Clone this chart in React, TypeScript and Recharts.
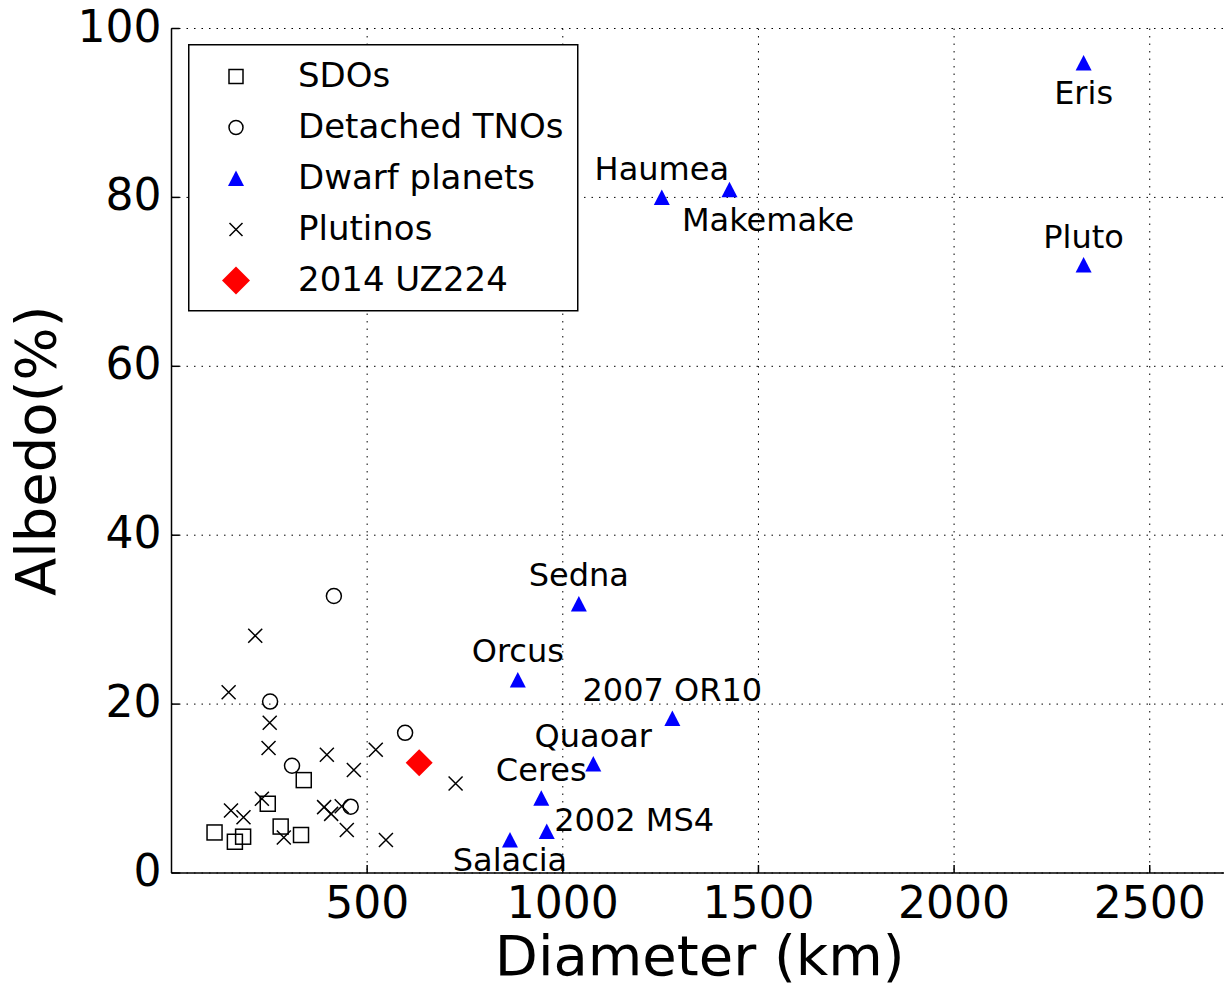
import { ScatterChart, Scatter, XAxis, YAxis, CartesianGrid, Legend } from 'recharts';

// diameters in km, albedo in %
const sdos = [
  { d: 110, a: 4.8 },
  { d: 162, a: 3.7 },
  { d: 183, a: 4.3 },
  { d: 246, a: 8.2 },
  { d: 279, a: 5.5 },
  { d: 331, a: 4.5 },
  { d: 338, a: 11.0 }
];

const detached = [
  { d: 415, a: 32.8 },
  { d: 252, a: 20.3 },
  { d: 308, a: 12.7 },
  { d: 597, a: 16.6 },
  { d: 458, a: 7.85 }
];

const plutinos = [
  { d: 214, a: 28.1 },
  { d: 146, a: 21.4 },
  { d: 251, a: 17.8 },
  { d: 248, a: 14.8 },
  { d: 397, a: 14.0 },
  { d: 522, a: 14.6 },
  { d: 466, a: 12.2 },
  { d: 726, a: 10.6 },
  { d: 231, a: 8.8 },
  { d: 152, a: 7.4 },
  { d: 184, a: 6.6 },
  { d: 390, a: 7.8 },
  { d: 408, a: 7.0 },
  { d: 435, a: 7.9 },
  { d: 448, a: 5.1 },
  { d: 287, a: 4.2 },
  { d: 548, a: 3.9 }
];

const dwarfPlanets = [
  { name: 'Eris', d: 2331, a: 95.9 },
  { name: 'Pluto', d: 2331, a: 72.0 },
  { name: 'Haumea', d: 1253, a: 80.0 },
  { name: 'Makemake', d: 1426, a: 80.9 },
  { name: 'Sedna', d: 1041, a: 31.85 },
  { name: 'Orcus', d: 885, a: 22.85 },
  { name: '2007 OR10', d: 1280, a: 18.3 },
  { name: 'Quaoar', d: 1078, a: 12.9 },
  { name: 'Ceres', d: 945, a: 8.85 },
  { name: '2002 MS4', d: 959, a: 4.9 },
  { name: 'Salacia', d: 865, a: 3.9 }
];

const uz224 = [{ d: 633, a: 13.06 }];

const xTicks = [500, 1000, 1500, 2000, 2500];
const yTicks = [0, 20, 40, 60, 80, 100];

// where each dwarf planet's name sits relative to its marker
const labelPos: Record<string, { dx: number; dy: number; anchor: string }> = {
  Eris: { dx: 0, dy: 41, anchor: 'middle' },
  Pluto: { dx: 0, dy: -17, anchor: 'middle' },
  Haumea: { dx: 0, dy: -17.5, anchor: 'middle' },
  Makemake: { dx: -47.5, dy: 41.7, anchor: 'start' },
  Sedna: { dx: 0, dy: -18, anchor: 'middle' },
  Orcus: { dx: 0, dy: -18, anchor: 'middle' },
  '2007 OR10': { dx: 0, dy: -17.3, anchor: 'middle' },
  Quaoar: { dx: 0, dy: -17.3, anchor: 'middle' },
  Ceres: { dx: 0, dy: -17, anchor: 'middle' },
  '2002 MS4': { dx: 7.5, dy: -1, anchor: 'start' },
  Salacia: { dx: 0, dy: 31, anchor: 'middle' }
};

const FONT = 'DejaVu Sans';

const Square = ({ cx, cy, s = 7.5 }: any) => (
  <rect x={cx - s} y={cy - s} width={2 * s} height={2 * s} fill="none" stroke="#000" strokeWidth={1.5} />
);
const Circle = ({ cx, cy, s = 7.5 }: any) => (
  <circle cx={cx} cy={cy} r={s} fill="none" stroke="#000" strokeWidth={1.5} />
);
const Cross = ({ cx, cy, s = 7 }: any) => (
  <path d={`M${cx - s},${cy - s}L${cx + s},${cy + s}M${cx - s},${cy + s}L${cx + s},${cy - s}`} stroke="#000" strokeWidth={1.5} />
);
const Triangle = ({ cx, cy, s = 8 }: any) => (
  <polygon points={`${cx},${cy - s} ${cx - s},${cy + s - 0.5} ${cx + s},${cy + s - 0.5}`} fill="#0000ff" />
);
const Diamond = ({ cx, cy, s = 13.5 }: any) => (
  <polygon points={`${cx},${cy - s} ${cx + s},${cy} ${cx},${cy + s} ${cx - s},${cy}`} fill="#ff0000" />
);

const DwarfShape = (props: any) => {
  const { cx, cy, payload } = props;
  const p = labelPos[payload.name];
  return (
    <g>
      <Triangle cx={cx} cy={cy} />
      <text x={cx + p.dx} y={cy + p.dy} textAnchor={p.anchor} fontSize={32} fontFamily={FONT} fill="#000">
        {payload.name}
      </text>
    </g>
  );
};

const legendItems = [
  { label: 'SDOs', Mark: Square, s: 7 },
  { label: 'Detached TNOs', Mark: Circle, s: 7 },
  { label: 'Dwarf planets', Mark: Triangle, s: 8 },
  { label: 'Plutinos', Mark: Cross, s: 6.5 },
  { label: '2014 UZ224', Mark: Diamond, s: 14 }
];

const LegendBox = () => (
  <svg width={391} height={268} style={{ display: 'block' }}>
    <rect x={0.75} y={0.75} width={389} height={266} fill="#fff" stroke="#000" strokeWidth={1.5} />
    {legendItems.map(({ label, Mark, s }, i) => (
      <g key={label}>
        <Mark cx={48} cy={32.5 + i * 51} s={s} />
        <text x={110} y={42.5 + i * 51} fontSize={34} fontFamily={FONT} fill="#000">
          {label}
        </text>
      </g>
    ))}
  </svg>
);

const BottomTick = ({ x, y, payload }: any) => (
  <g>
    <line x1={x} y1={y} x2={x} y2={y - 8} stroke="#000" strokeWidth={1.5} />
    <text x={x} y={y + 45} textAnchor="middle" fontSize={44} fontFamily={FONT} fill="#000">
      {payload.value}
    </text>
  </g>
);

const TopTick = ({ x, y }: any) => (
  <line x1={x} y1={y} x2={x} y2={y + 8} stroke="#000" strokeWidth={1.5} />
);

const LeftTick = ({ x, y, payload }: any) => (
  <g>
    <line x1={x} y1={y} x2={x + 8} y2={y} stroke="#000" strokeWidth={1.5} />
    <text x={x - 10} y={y + 13} textAnchor="end" fontSize={44} fontFamily={FONT} fill="#000">
      {payload.value}
    </text>
  </g>
);

export default function App() {
  return (
    <div style={{ position: 'absolute', left: 0, top: 0, width: 1224, height: 988, overflow: 'hidden', background: '#fff' }}>
      <ScatterChart width={1240} height={988} margin={{ top: 28.5, right: 12, bottom: 0, left: 0 }}>
        <CartesianGrid stroke="#000" strokeWidth={1} strokeDasharray="1.5 6" />
        <XAxis
          type="number"
          dataKey="d"
          domain={[0, 2700]}
          ticks={xTicks}
          interval={0}
          allowDataOverflow
          height={115}
          tickSize={0}
          tickMargin={0}
          tick={<BottomTick />}
          axisLine={{ stroke: '#000', strokeWidth: 1.5 }}
          label={{
            content: ({ viewBox }: any) => (
              <text x={viewBox.x + viewBox.width / 2} y={viewBox.y + 102} textAnchor="middle" fontSize={56} fontFamily={FONT} fill="#000">
                Diameter (km)
              </text>
            )
          }}
        />
        <XAxis
          xAxisId="top"
          orientation="top"
          type="number"
          domain={[0, 2700]}
          ticks={xTicks}
          interval={0}
          allowDataOverflow
          height={0}
          tickSize={0}
          tickMargin={0}
          tick={<TopTick />}
          axisLine={{ stroke: '#000', strokeWidth: 1.5 }}
        />
        <YAxis
          type="number"
          dataKey="a"
          domain={[0, 100]}
          ticks={yTicks}
          interval={0}
          allowDataOverflow
          width={171.5}
          tickSize={0}
          tickMargin={0}
          tick={<LeftTick />}
          axisLine={{ stroke: '#000', strokeWidth: 1.5 }}
          label={{
            content: ({ viewBox }: any) => (
              <text
                transform={`translate(55 ${viewBox.y + viewBox.height / 2}) rotate(-90)`}
                textAnchor="middle"
                fontSize={56}
                fontFamily={FONT}
                fill="#000"
              >
                Albedo(%)
              </text>
            )
          }}
        />
        <Scatter name="SDOs" data={sdos} shape={(p: any) => <Square cx={p.cx} cy={p.cy} />} isAnimationActive={false} />
        <Scatter name="Detached TNOs" data={detached} shape={(p: any) => <Circle cx={p.cx} cy={p.cy} />} isAnimationActive={false} />
        <Scatter name="Dwarf planets" data={dwarfPlanets} shape={DwarfShape} isAnimationActive={false} />
        <Scatter name="Plutinos" data={plutinos} shape={(p: any) => <Cross cx={p.cx} cy={p.cy} />} isAnimationActive={false} />
        <Scatter name="2014 UZ224" data={uz224} shape={(p: any) => <Diamond cx={p.cx} cy={p.cy} />} isAnimationActive={false} />
        <Legend
          layout="vertical"
          align="center"
          verticalAlign="middle"
          wrapperStyle={{ position: 'absolute', left: 188.25, top: 44.25, width: 391, height: 268 }}
          content={<LegendBox />}
        />
      </ScatterChart>
    </div>
  );
}
